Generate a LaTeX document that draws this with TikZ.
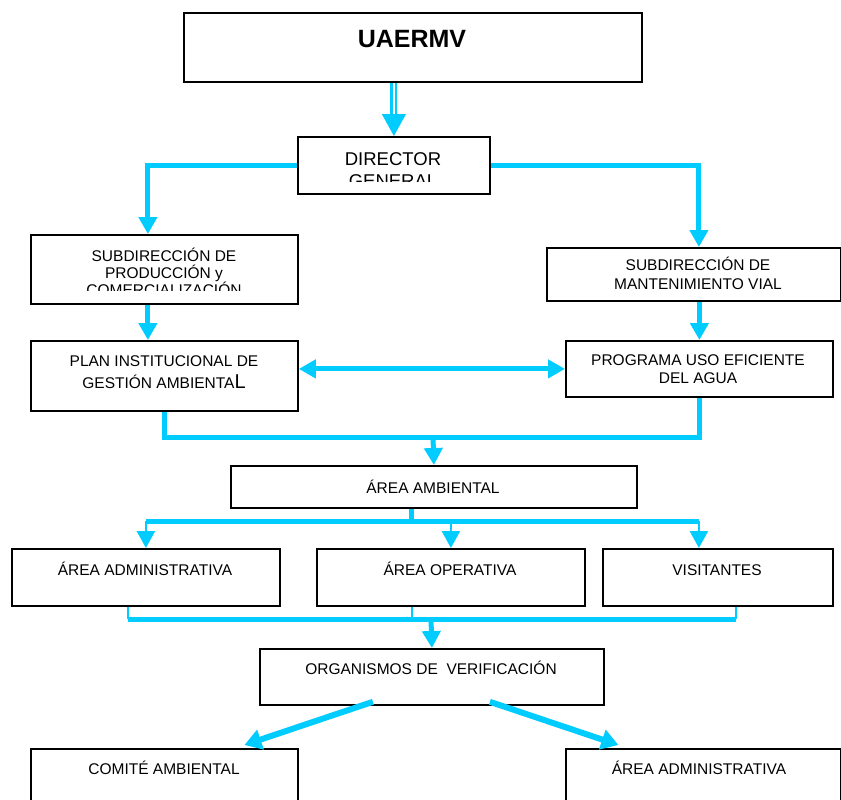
\documentclass[tikz,border=0pt]{standalone}
\usepackage{fontspec}
\setmainfont{Liberation Sans}
\usepackage{tikz}
\usetikzlibrary{arrows.meta}
\definecolor{celeste}{RGB}{0,204,255}

\tikzset{
  caja/.style={draw, line width=1.8pt, anchor=north west, inner sep=0pt},
  texto/.style={align=center, inner sep=0pt, font=\fontsize{15.5}{18}\selectfont},
  flujo/.style={draw=celeste, line width=5pt},
  fino/.style={draw=celeste, line width=2.5pt},
  diagonal/.style={draw=celeste, line width=6pt, -{Triangle[width=20pt,length=17pt]}},
  punta/.style={-{Triangle[width=18pt,length=17pt]}},
  ambas/.style={{Triangle[width=18pt,length=17pt]}-{Triangle[width=18pt,length=17pt]}}
}

\begin{document}
\begin{tikzpicture}[x=1pt,y=-1pt]
  \clip (0,0) rectangle (841,800);

  \node[caja, minimum width=458pt, minimum height=69pt] (uaermv) at (183,12) {};
  \node[caja, minimum width=192pt, minimum height=57pt] (director) at (297,136) {};
  \node[caja, minimum width=267pt, minimum height=69pt] (subprod) at (30,234) {};
  \node[caja, minimum width=294pt, minimum height=53pt] (submant) at (546,247) {};
  \node[caja, minimum width=267pt, minimum height=70pt] (plan) at (30,340) {};
  \node[caja, minimum width=267pt, minimum height=56pt] (programa) at (565,340) {};
  \node[caja, minimum width=406pt, minimum height=42pt] (ambiental) at (230,465) {};
  \node[caja, minimum width=268pt, minimum height=57pt] (administrativa) at (11,548) {};
  \node[caja, minimum width=268pt, minimum height=57pt] (operativa) at (316,548) {};
  \node[caja, minimum width=230pt, minimum height=57pt] (visitantes) at (602,548) {};
  \node[caja, minimum width=344pt, minimum height=56pt] (organismos) at (259,648) {};
  \node[caja, minimum width=267pt, minimum height=70pt] (comite) at (30,748) {};
  \node[caja, minimum width=275pt, minimum height=70pt] (adm2) at (565,748) {};

  \node[texto, anchor=base, font=\bfseries\fontsize{25}{30}\selectfont] (t-uaermv) at (412,48) {UAERMV};
  \begin{scope}
    \clip (director.north west) rectangle ([yshift=13pt]director.south east);
    \node[texto, font=\fontsize{18.5}{22}\selectfont] (t-director) at (393,170) {DIRECTOR\\GENERAL};
  \end{scope}
  \begin{scope}
    \clip (subprod.north west) rectangle ([yshift=14pt]subprod.south east);
    \node[texto, font=\fontsize{15.5}{17}\selectfont] (t-subprod) at (164,271.5) {SUBDIRECCIÓN DE\\PRODUCCIÓN y\\COMERCIALIZACIÓN};
  \end{scope}
  \node[texto, font=\fontsize{15.5}{19}\selectfont] (t-submant) at (698,273) {SUBDIRECCIÓN DE\\MANTENIMIENTO VIAL};
  \node[texto, font=\fontsize{15.5}{22}\selectfont] (t-plan) at (164,372) {PLAN INSTITUCIONAL DE\\GESTIÓN AMBIENTA{\fontsize{20}{22}\selectfont L}};
  \node[texto, font=\fontsize{15.5}{18.5}\selectfont] (t-programa) at (698,369) {PROGRAMA USO EFICIENTE\\DEL AGUA};
  \node[texto, anchor=base] (t-ambiental) at (433,493) {ÁREA AMBIENTAL};
  \node[texto, anchor=base] (t-administrativa) at (145,575) {ÁREA ADMINISTRATIVA};
  \node[texto, anchor=base] (t-operativa) at (450,575) {ÁREA OPERATIVA};
  \node[texto, anchor=base] (t-visitantes) at (717,575) {VISITANTES};
  \node[texto, anchor=base] (t-organismos) at (431,674) {ORGANISMOS DE\ \ VERIFICACIÓN};
  \node[texto, anchor=base] (t-comite) at (164,774) {COMITÉ AMBIENTAL};
  \node[texto, anchor=base] (t-adm2) at (699,774) {ÁREA ADMINISTRATIVA};

  \coordinate (doble) at ([yshift=-32pt]uaermv.south -| director.north);
  \draw[celeste, line width=2.2pt, double=white, double distance=2.5pt] (uaermv.south -| director.north) -- (doble);
  \draw[celeste, line width=1pt, -{Triangle[width=24pt,length=22pt]}] (doble) -- (director.north);

  \draw[flujo, punta] (director.west) -| ([xshift=-16.5pt]subprod.north);
  \draw[flujo, punta] (director.east) -| ([xshift=5pt]submant.north);
  \draw[flujo, punta] ([xshift=-16.5pt]subprod.south) -- ([xshift=-16.5pt]plan.north);
  \draw[flujo, punta] (programa.north |- submant.south) -- (programa.north);
  \draw[flujo, ambas] (programa.west -| plan.east) -- (programa.west);

  \coordinate (union1) at (433,437);
  \draw[flujo] (plan.south) |- (union1) -| (programa.south);
  \draw[flujo, punta] (union1) -- (ambiental.north);

  \coordinate (rama1) at (411,521);
  \draw[flujo] (ambiental.south -| rama1) -- (rama1);
  \draw[flujo] (administrativa.north |- rama1) -- ([xshift=-19pt]visitantes.north |- rama1);
  \draw[fino, punta] (administrativa.north |- rama1) -- (administrativa.north);
  \draw[fino, punta] (operativa.north |- rama1) -- (operativa.north);
  \draw[fino, punta] ([xshift=-19pt]visitantes.north |- rama1) -- ([xshift=-19pt]visitantes.north);

  \coordinate (union2) at (431,619);
  \draw[fino] ([xshift=-18pt]administrativa.south) -- ([xshift=-18pt]administrativa.south |- union2);
  \draw[fino] ([xshift=-39pt]operativa.south) -- ([xshift=-39pt]operativa.south |- union2);
  \draw[fino] ([xshift=18pt]visitantes.south) -- ([xshift=18pt]visitantes.south |- union2);
  \draw[flujo] ([xshift=-18pt]administrativa.south |- union2) -- ([xshift=18pt]visitantes.south |- union2);
  \draw[flujo, punta] (union2) -- (organismos.north);

  \draw[diagonal] ([xshift=-59pt,yshift=4pt]organismos.south) -- ([xshift=80pt,yshift=3pt]comite.north);
  \draw[diagonal] ([xshift=58pt,yshift=4pt]organismos.south) -- ([xshift=-85pt,yshift=3pt]adm2.north);
\end{tikzpicture}
\end{document}
